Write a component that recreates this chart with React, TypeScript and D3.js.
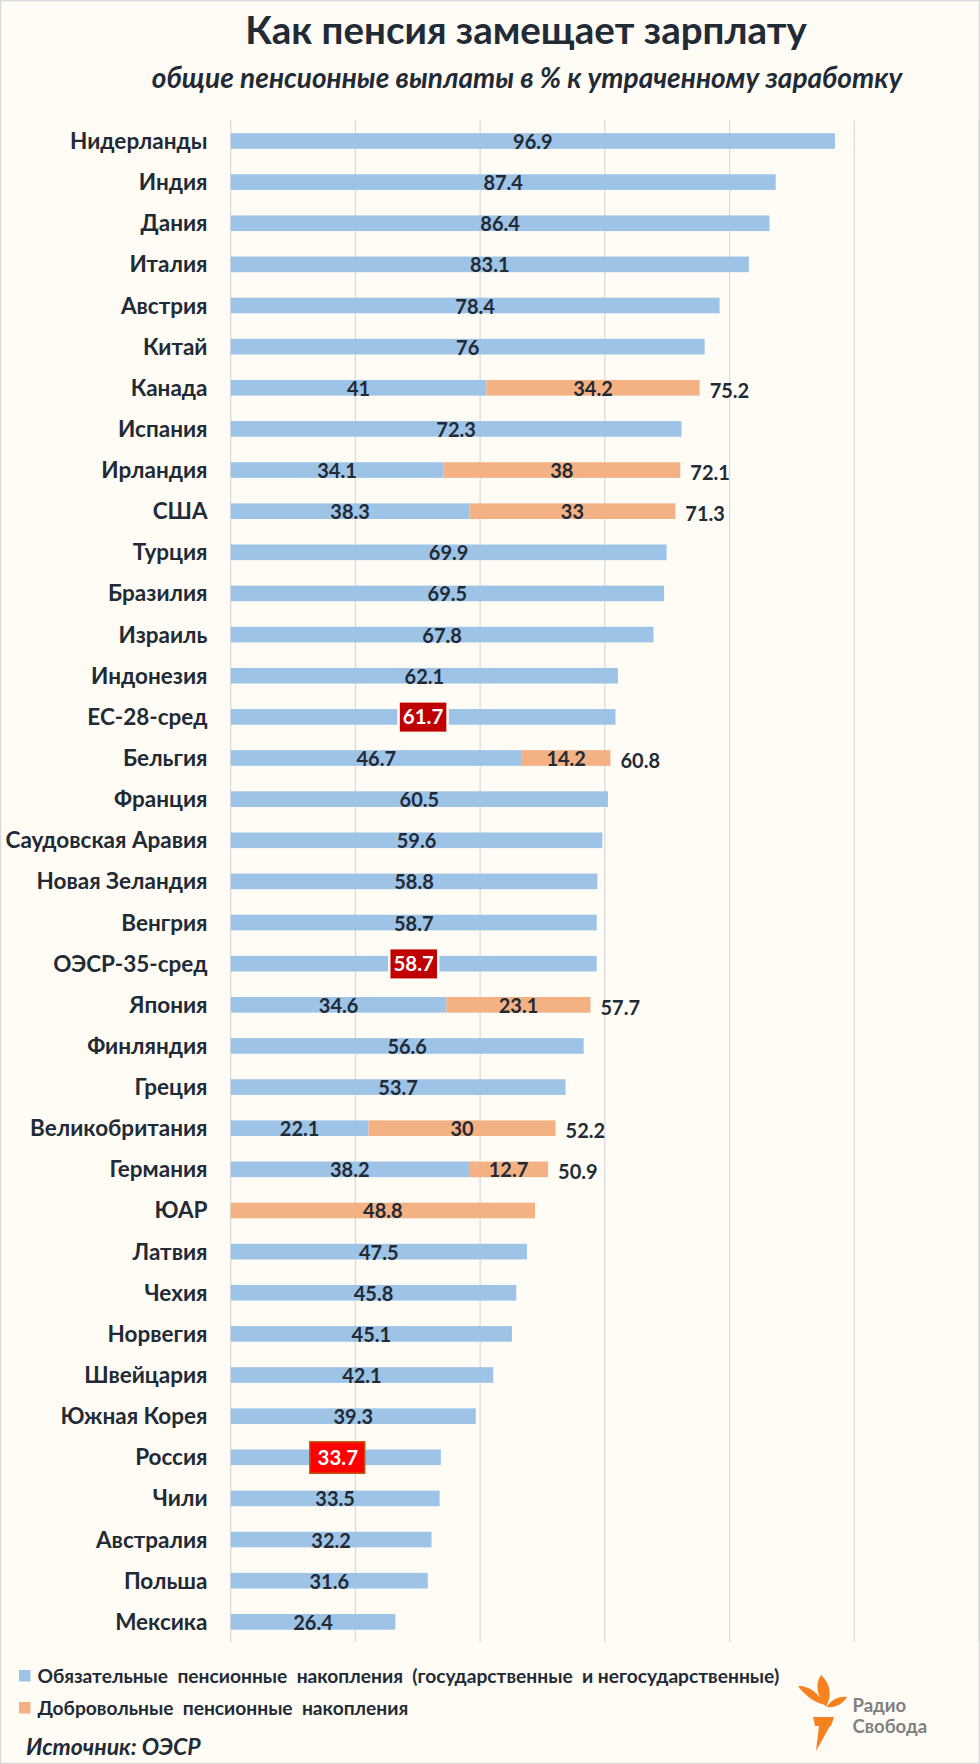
import React from 'react';
import * as d3 from 'd3';

const countries = [
  'Нидерланды', 'Индия', 'Дания', 'Италия', 'Австрия', 'Китай', 'Канада', 'Испания',
  'Ирландия', 'США', 'Турция', 'Бразилия', 'Израиль', 'Индонезия', 'ЕС-28-сред',
  'Бельгия', 'Франция', 'Саудовская Аравия', 'Новая Зеландия', 'Венгрия', 'ОЭСР-35-сред',
  'Япония', 'Финляндия', 'Греция', 'Великобритания', 'Германия', 'ЮАР', 'Латвия', 'Чехия',
  'Норвегия', 'Швейцария', 'Южная Корея', 'Россия', 'Чили', 'Австралия', 'Польша', 'Мексика',
];

// обязательные пенсионные накопления
const mandatory = [
  96.9, 87.4, 86.4, 83.1, 78.4, 76, 41, 72.3,
  34.1, 38.3, 69.9, 69.5, 67.8, 62.1, 61.7,
  46.7, 60.5, 59.6, 58.8, 58.7, 58.7,
  34.6, 56.6, 53.7, 22.1, 38.2, 0, 47.5, 45.8,
  45.1, 42.1, 39.3, 33.7, 33.5, 32.2, 31.6, 26.4,
];

// добровольные пенсионные накопления
const voluntary = [
  0, 0, 0, 0, 0, 0, 34.2, 0,
  38, 33, 0, 0, 0, 0, 0,
  14.2, 0, 0, 0, 0, 0,
  23.1, 0, 0, 30, 12.7, 48.8, 0, 0,
  0, 0, 0, 0, 0, 0, 0, 0,
];

// подписи итога справа от составных столбцов
const totals: Record<string, number> = {
  'Канада': 75.2,
  'Ирландия': 72.1,
  'США': 71.3,
  'Бельгия': 60.8,
  'Япония': 57.7,
  'Великобритания': 52.2,
  'Германия': 50.9,
};

const highlighted: Record<string, string> = {
  'ЕС-28-сред': 'dark',
  'ОЭСР-35-сред': 'dark',
  'Россия': 'red',
};

const xTicks = [0, 20, 40, 60, 80, 100, 120];

const legendItems = [
  'Обязательные  пенсионные  накопления  (государственные  и негосударственные)',
  'Добровольные  пенсионные  накопления',
];

const W = 980;
const H = 1764;
const BLUE = '#9dc3e6';
const ORANGE = '#f4b183';
const BG = '#fffcf5';
const TEXT = '#222a35';
const FONT = "Lato, 'Open Sans', sans-serif";

const fmt = (v: number) => String(v);

const Torch: React.FC<{ x: number; y: number }> = ({ x, y }) => (
  <g transform={`translate(${x},${y})`} fill="#f5821f">
    {/* left flame */}
    <path d="M0,11 C8,10 20,16 27,30 C18,28 8,22 0,11 Z" />
    {/* center flame */}
    <path d="M23,0 C34,10 33,22 28,32 C22,24 15,12 23,0 Z" />
    {/* right flame */}
    <path d="M49,22 C40,21 32,26 29,32 C37,33 45,29 49,22 Z" />
    {/* cup */}
    <path d="M15,42 L36,42 L33,51 L17,51 Z" />
    {/* handle */}
    <path d="M21,51 L32,51 L18,76 Z" />
  </g>
);

const App: React.FC = () => {
  const x = d3.scaleLinear().domain([0, 120]).range([230.7, 979]);
  const y = d3
    .scaleBand<string>()
    .domain(countries)
    .range([120.4, 1642.4])
    .paddingInner(0.62)
    .paddingOuter(0.31);
  const bw = y.bandwidth();

  return (
    <div>
      <style>{'body{margin:0}'}</style>
      <svg width={W} height={H} style={{ display: 'block', fontFamily: FONT }}>
        <rect x={0.5} y={0.5} width={W - 1} height={H - 1} fill={BG} stroke="#d9d9d9" strokeWidth={1.5} />

        <text x={526} y={44} textAnchor="middle" fontSize={38.5} fontWeight={700} fill={TEXT}>
          Как пенсия замещает зарплату
        </text>
        <text x={527} y={88} textAnchor="middle" fontSize={28} fontWeight={700} fontStyle="italic" fill={TEXT}>
          общие пенсионные выплаты в % к утраченному заработку
        </text>

        {/* gridlines */}
        {xTicks.map((t) => (
          <line key={t} x1={x(t)} x2={x(t)} y1={120} y2={1642} stroke="#d9d9d9" strokeWidth={1.2} />
        ))}

        {countries.map((c, i) => {
          const cy = (y(c) ?? 0) + bw / 2;
          const m = mandatory[i];
          const v = voluntary[i];
          const x0 = x(0);
          const x1 = x(m);
          const x2 = x(m + v);
          const hl = highlighted[c];
          const stacked = m > 0 && v > 0;
          return (
            <g key={c}>
              <text x={207.5} y={cy + 8} textAnchor="end" fontSize={22.5} fontWeight={700} fill={TEXT}>
                {c}
              </text>
              {m > 0 && <rect x={x0} y={y(c)} width={x1 - x0} height={bw} fill={BLUE} />}
              {v > 0 && <rect x={x1} y={y(c)} width={x2 - x1} height={bw} fill={ORANGE} />}
              {hl ? (
                <g>
                  <rect
                    x={(x0 + x1) / 2 - (hl === 'red' ? 26 : 24.5)}
                    y={cy - 15.5}
                    width={hl === 'red' ? 55 : 49}
                    height={31.5}
                    fill={hl === 'red' ? '#ff0000' : '#c00000'}
                    stroke={hl === 'red' ? '#c55a11' : BG}
                    strokeWidth={hl === 'red' ? 1.5 : 2.5}
                  />
                  <text x={(x0 + x1) / 2 + (hl === 'red' ? 2 : 0)} y={cy + 7.5} textAnchor="middle" fontSize={20.5} fontWeight={700} fill="#ffffff">
                    {fmt(m)}
                  </text>
                </g>
              ) : (
                <g fontSize={20} fontWeight={700} fill={TEXT} textAnchor="middle">
                  {m > 0 && <text x={(x0 + x1) / 2} y={cy + 8}>{fmt(m)}</text>}
                  {v > 0 && <text x={(x1 + x2) / 2} y={cy + 8}>{fmt(v)}</text>}
                  {stacked && totals[c] !== undefined && (
                    <text x={x2 + 10} y={cy + 10} textAnchor="start">{fmt(totals[c])}</text>
                  )}
                </g>
              )}
            </g>
          );
        })}

        {/* legend */}
        {legendItems.map((l, i) => (
          <g key={l} transform={`translate(19,${1670 + i * 32})`}>
            <rect x={0} y={0} width={11.5} height={11.5} fill={i === 0 ? BLUE : ORANGE} />
            <text x={18.5} y={12.5} fontSize={19.2} fontWeight={700} fill={TEXT} style={{ whiteSpace: 'pre' }}>
              {l}
            </text>
          </g>
        ))}

        <text x={26} y={1755} fontSize={23} fontWeight={700} fontStyle="italic" fill={TEXT}>
          Источник: ОЭСР
        </text>

        <Torch x={798} y={1675} />
        <text x={852.5} y={1711.5} fontSize={18.5} fontWeight={700} fill="#808080">
          Радио
        </text>
        <text x={852.5} y={1733} fontSize={18.5} fontWeight={700} fill="#808080">
          Свобода
        </text>
      </svg>
    </div>
  );
};

export default App;
